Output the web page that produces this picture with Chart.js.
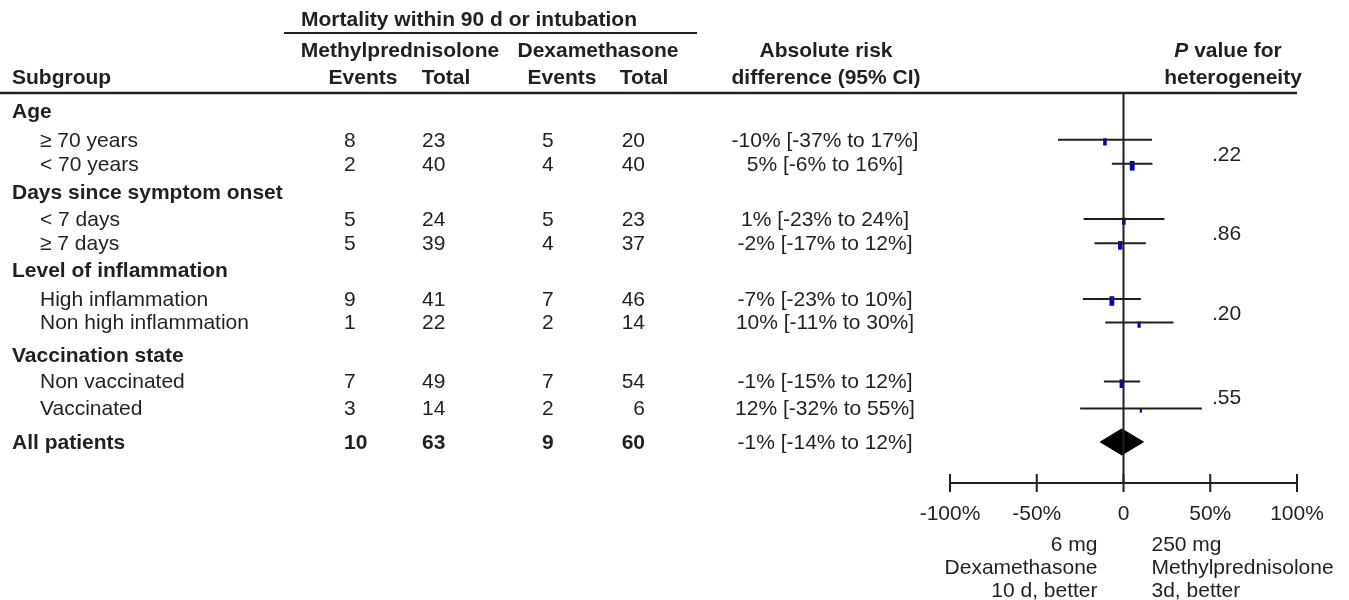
<!DOCTYPE html>
<html>
<head>
<meta charset="utf-8">
<script src="https://cdn.jsdelivr.net/npm/chart.js@4.4.1/dist/chart.umd.min.js"></script>
<style>
  html, body { margin: 0; background: #fff; }
  #wrap { width: 1349px; height: 600px; }
</style>
</head>
<body>
<div id="wrap"><canvas id="forest" width="1349" height="600"></canvas></div>
<script>
// ===== Data =====
const rowLabels = [
  "Age", "≥ 70 years", "< 70 years",
  "Days since symptom onset", "< 7 days", "≥ 7 days",
  "Level of inflammation", "High inflammation", "Non high inflammation",
  "Vaccination state", "Non vaccinated", "Vaccinated",
  "All patients"
];
const rowKind = ["group","sub","sub","group","sub","sub","group","sub","sub","group","sub","sub","total"];

// one entry per subgroup row (8 subgroups + all patients)
const methylEvents = [8, 2, 5, 5, 9, 1, 7, 3, 10];
const methylTotal  = [23, 40, 24, 39, 41, 22, 49, 14, 63];
const dexEvents    = [5, 4, 5, 4, 7, 2, 7, 2, 9];
const dexTotal     = [20, 40, 23, 37, 46, 14, 54, 6, 60];
const riskText = [
  "-10% [-37% to 17%]", "5% [-6% to 16%]",
  "1% [-23% to 24%]", "-2% [-17% to 12%]",
  "-7% [-23% to 10%]", "10% [-11% to 30%]",
  "-1% [-15% to 12%]", "12% [-32% to 55%]",
  "-1% [-14% to 12%]"
];
// plotted estimates / CI as drawn (%)
const estimate = [-10.7, 5, 0.2, -1.9, -6.7, 9, -1, 10, -1];
const ciLow    = [-37.8, -6.7, -23, -16.7, -23.4, -10.5, -11.3, -25, -13.4];
const ciHigh   = [16.4, 16.7, 23.6, 12.9, 10, 28.8, 9.6, 45.2, 11.5];
const weight   = [0.75, 1, 0.75, 0.9, 1, 0.65, 0.9, 0.45];
const pHet     = [".22", ".86", ".20", ".55"];
const xTicks   = [-100, -50, 0, 50, 100];
const xTickLabels = ["-100%", "-50%", "0", "50%", "100%"];

// ===== Layout =====
const Y_MAX = 15;
// row positions on the y scale (row units from the header rule)
const rowSlot = [0.69, 1.8, 2.72, 3.81, 4.85, 5.78, 6.81, 7.92, 8.83, 10.08, 11.1, 12.13, 13.42];
const dataRows = rowKind.map((k, i) => k === "group" ? -1 : i).filter(i => i >= 0);

const FONT = '"Liberation Sans", Arial, Helvetica, sans-serif';
const INK = "#231f20";
const BOX = "#0000cc";
const FS = 21;

const ciData = [];
dataRows.slice(0, 8).forEach((r, i) => {
  ciData.push({ x: ciLow[i], y: rowSlot[r] }, { x: ciHigh[i], y: rowSlot[r] }, { x: ciHigh[i], y: null });
});
const boxData = dataRows.slice(0, 8).map((r, i) => ({ x: estimate[i], y: rowSlot[r] + 0.08 }));
const allY = rowSlot[12];
const diamondData = [
  { x: ciLow[8], y: allY }, { x: estimate[8], y: allY - 0.5 },
  { x: ciHigh[8], y: allY }, { x: estimate[8], y: allY + 0.5 },
  { x: ciLow[8], y: allY }
];

function font(size, weightStr, style){
  return `${style || ""} ${weightStr || ""} ${size}px ${FONT}`.trim();
}
function txt(ctx, s, x, y, align, f){
  ctx.font = f || font(FS);
  ctx.textAlign = align || "left";
  ctx.fillText(s, x, y);
}
function hline(ctx, x1, x2, y, w){
  ctx.beginPath();
  ctx.lineWidth = w || 2;
  ctx.moveTo(x1, y); ctx.lineTo(x2, y);
  ctx.stroke();
}

const tablePlugin = {
  id: "forestTable",
  afterDraw(chart){
    const { ctx } = chart;
    const xs = chart.scales.x, ys = chart.scales.y;
    const px = v => xs.getPixelForValue(v);
    const py = v => ys.getPixelForValue(v);
    ctx.save();
    ctx.fillStyle = INK;
    ctx.strokeStyle = INK;
    ctx.textBaseline = "middle";

    // header
    const B = font(FS, "bold");
    const R = font(FS);
    txt(ctx, "Mortality within 90 d or intubation", 301, 20, "left", B);
    hline(ctx, 284, 697, 33, 2);
    txt(ctx, "Methylprednisolone", 400, 51, "center", B);
    txt(ctx, "Dexamethasone", 598, 51, "center", B);
    txt(ctx, "Subgroup", 12, 78, "left", B);
    txt(ctx, "Events", 363, 78, "center", B);
    txt(ctx, "Total", 446, 78, "center", B);
    txt(ctx, "Events", 562, 78, "center", B);
    txt(ctx, "Total", 644, 78, "center", B);
    txt(ctx, "Absolute risk", 826, 51, "center", B);
    txt(ctx, "difference (95% CI)", 826, 78, "center", B);
    // "P value for" with italic P
    ctx.font = B;
    const restW = ctx.measureText(" value for").width;
    ctx.font = font(FS, "bold", "italic");
    const pW = ctx.measureText("P").width;
    const pStart = 1228 - (pW + restW) / 2;
    txt(ctx, "P", pStart, 51, "left", font(FS, "bold", "italic"));
    txt(ctx, " value for", pStart + pW, 51, "left", B);
    txt(ctx, "heterogeneity", 1233, 78, "center", B);
    hline(ctx, 0, xs.right, ys.top, 2.5);

    // rows
    let k = 0;
    rowLabels.forEach((lab, r) => {
      const y = py(rowSlot[r]) + 1;
      if (rowKind[r] === "group") {
        txt(ctx, lab, 12, y, "left", B);
        return;
      }
      const total = rowKind[r] === "total";
      const f = total ? B : R;
      txt(ctx, lab, total ? 12 : 40, y, "left", f);
      txt(ctx, String(methylEvents[k]), 344, y, "left", f);
      txt(ctx, String(methylTotal[k]), 422, y, "left", f);
      txt(ctx, String(dexEvents[k]), 542, y, "left", f);
      txt(ctx, String(dexTotal[k]), 645, y, "right", f);
      txt(ctx, riskText[k], 825, y, "center", R);
      k++;
    });

    // heterogeneity p values, between each pair of subgroup rows
    pHet.forEach((p, i) => {
      const a = dataRows[i * 2], b = dataRows[i * 2 + 1];
      txt(ctx, p, 1212, (py(rowSlot[a]) + py(rowSlot[b])) / 2 + 3, "left", R);
    });

    // x axis
    const ay = py(Y_MAX);
    hline(ctx, px(xTicks[0]), px(xTicks[xTicks.length - 1]), ay, 2);
    xTicks.forEach((t, i) => {
      ctx.beginPath();
      ctx.lineWidth = 2;
      ctx.moveTo(px(t), ay - 9); ctx.lineTo(px(t), ay + 9);
      ctx.stroke();
      txt(ctx, xTickLabels[i], px(t), ay + 31, "center", R);
    });
    const z = px(0);
    ["6 mg", "Dexamethasone", "10 d, better"].forEach((s, i) => txt(ctx, s, z - 26, ay + 62 + i * 23, "right", R));
    ["250 mg", "Methylprednisolone", "3d, better"].forEach((s, i) => txt(ctx, s, z + 28, ay + 62 + i * 23, "left", R));
    ctx.restore();
  }
};

new Chart(document.getElementById("forest"), {
  type: "scatter",
  data: {
    datasets: [
      { label: "ref", data: [{ x: 0, y: 0 }, { x: 0, y: Y_MAX }], showLine: true,
        borderColor: INK, borderWidth: 2, pointRadius: 0 },
      { label: "ci", data: ciData, showLine: true, spanGaps: false,
        borderColor: INK, borderWidth: 2, pointRadius: 0 },
      { label: "estimate", data: boxData, showLine: false,
        pointStyle: "line", pointRotation: 90,
        pointRadius: c => 4.8 * weight[c.dataIndex],
        pointBorderWidth: c => 4.8 * weight[c.dataIndex],
        pointBorderColor: BOX, pointBackgroundColor: BOX },
      { label: "all", data: diamondData, showLine: true, fill: "shape",
        borderColor: "#000", backgroundColor: "#000", borderWidth: 1, pointRadius: 0 }
    ]
  },
  options: {
    responsive: false,
    animation: false,
    events: [],
    layout: { padding: { left: 950, right: 52, top: 93, bottom: 117 } },
    plugins: { legend: { display: false }, tooltip: { enabled: false } },
    scales: {
      x: { type: "linear", min: -100, max: 100, display: false },
      y: { type: "linear", min: 0, max: Y_MAX, reverse: true, display: false }
    }
  },
  plugins: [tablePlugin]
});
</script>
</body>
</html>
